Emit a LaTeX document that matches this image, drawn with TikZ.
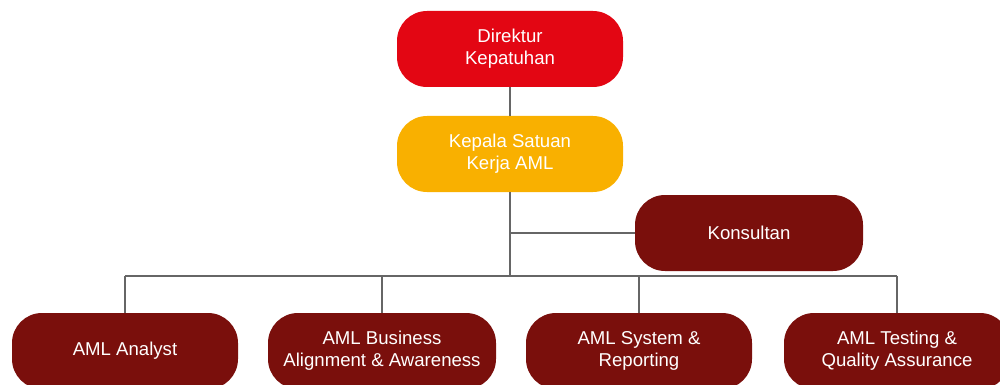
\documentclass[tikz,border=0pt]{standalone}
\usepackage{fontspec}
\setmainfont{Liberation Sans}
\definecolor{bred}{HTML}{E30613}
\definecolor{byel}{HTML}{F9B000}
\definecolor{bdark}{HTML}{7A0F0C}
\definecolor{lgray}{HTML}{666666}
\begin{document}
\begin{tikzpicture}[x=1pt,y=-1pt,
  box/.style={rounded corners=30pt, minimum width=226pt, minimum height=76pt,
    text=white, align=center, inner sep=0pt,
    font=\fontsize{18.6}{22}\selectfont},
  link/.style={draw=lgray, line width=1.1pt}]
\useasboundingbox (0,0) rectangle (1000,385);
\clip (0,0) rectangle (1000,385);
\node[box, fill=bred] (dir) at (510,49) {Direktur\\Kepatuhan};
\node[box, fill=byel] (kep) at (510,154) {Kepala Satuan\\Kerja AML};
\node[box, fill=bdark, minimum width=228pt] (kon) at (749,233) {Konsultan};
\node[box, fill=bdark] (a1) at (125,351) {AML Analyst};
\node[box, fill=bdark, minimum width=228pt] (a2) at (382,351) {AML Business\\Alignment \& Awareness};
\node[box, fill=bdark] (a3) at (639,351) {AML System \&\\Reporting};
\node[box, fill=bdark] (a4) at (897,351) {AML Testing \&\\Quality Assurance};
\coordinate (bus) at (510,276);
\coordinate (kj) at (510,233);
\coordinate (b1) at (125,276);
\coordinate (b2) at (382,276);
\coordinate (b3) at (639,276);
\coordinate (b4) at (897,276);
\draw[link] (dir.south) -- (kep.north);
\draw[link] (kep.south) -- (bus);
\draw[link] (kj) -- (kon.west);
\draw[link] (b1) -- (b4);
\draw[link] (b1) -- (a1.north);
\draw[link] (b2) -- (a2.north);
\draw[link] (b3) -- (a3.north);
\draw[link] (b4) -- (a4.north);
\end{tikzpicture}
\end{document}
